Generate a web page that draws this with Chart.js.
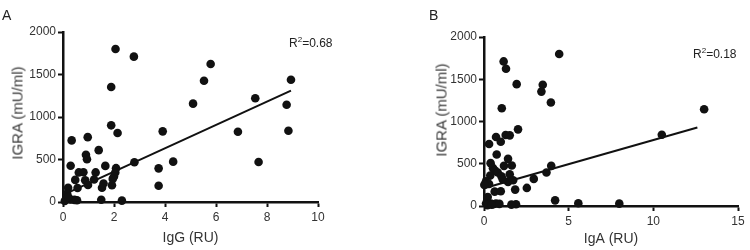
<!DOCTYPE html>
<html>
<head>
<meta charset="utf-8">
<script src="https://cdn.jsdelivr.net/npm/chart.js@4"></script>
<style>
  html, body { margin: 0; padding: 0; background: #fff; }
  #wrap { position: relative; width: 750px; height: 250px; overflow: hidden; font-family: "Liberation Sans", Arial, sans-serif; color: #222; }
  canvas { position: absolute; top: 0; }
  .lbl { position: absolute; white-space: nowrap; line-height: 1; }
  .ytitle { position: absolute; white-space: nowrap; font-size: 15px; line-height: 1; color: #3a3a3a; font-weight: normal; transform: translate(-50%, -50%) rotate(-90deg); }
  sup { font-size: 8px; vertical-align: 5px; line-height: 0; }
</style>
</head>
<body>
<div id="wrap">
  <canvas id="cA" width="375" height="250" style="left:0px"></canvas>
  <canvas id="cB" width="375" height="250" style="left:375px"></canvas>
  <div class="lbl" style="left:2px; top:8px; font-size:14px;">A</div>
  <div class="lbl" style="left:429px; top:8px; font-size:14px;">B</div>
  <div class="ytitle" style="left:17px; top:113px;">IGRA (mU/ml)</div>
  <div class="ytitle" style="left:441px; top:110px;">IGRA (mU/ml)</div>
  <div class="lbl" style="left:289px; top:37px; font-size:12px;">R<sup>2</sup>=0.68</div>
  <div class="lbl" style="left:693px; top:48px; font-size:12px;">R<sup>2</sup>=0.18</div>
</div>
<script>
// ---- Panel A: IgG vs IGRA ----
const igG = [2.06,2.78,5.79,5.53,8.94,5.10,7.54,8.77,1.89,1.89,2.14,3.91,6.86,8.84,7.67,4.32,2.80,3.75,3.75,0.34,0.97,1.40,0.90,0.94,0.30,1.66,2.08,2.05,0.62,0.80,1.28,0.48,0.87,1.22,2.00,1.95,1.59,1.53,1.92,0.98,0.57,0.20,0.16,0.12,0.30,0.45,0.55,0.07,1.50,2.31,0.20];
const igraA = [1800,1710,1624,1427,1439,1157,1220,1145,1353,902,812,831,827,839,471,475,467,396,192,725,763,610,556,503,427,425,398,348,348,350,348,260,255,265,300,272,218,168,198,200,165,168,100,40,30,25,20,12,27,16,60];
const fitAx = [0.05, 8.94];
const fitAy = [90, 1310];
const ticksAx = [0, 2, 4, 6, 8, 10];

// ---- Panel B: IgA vs IGRA ----
const igA = [4.44,1.16,1.30,1.93,3.47,3.39,3.95,1.05,13.0,10.5,2.01,0.71,1.28,1.52,0.99,0.30,0.75,0.39,1.42,1.18,1.64,0.53,0.65,0.81,0.37,1.03,1.52,3.97,3.69,2.94,2.53,1.84,1.42,1.72,0.12,0.30,0.63,0.99,4.20,5.57,7.99,1.89,1.62,0.22,0.12,0.30,0.41,0.55,0.71,0.91,0.20,0.45,1.11,0.02];
const igraB = [1798,1711,1624,1442,1434,1354,1224,1156,1145,844,907,816,840,836,760,733,610,507,558,475,479,448,420,396,360,352,376,475,396,321,214,194,285,305,293,261,170,174,67,32,28,20,16,107,30,25,30,20,30,25,10,15,314,250];
const fitBx = [0.0, 12.6];
const fitBy = [210, 930];
const ticksBx = [0, 5, 10, 15];
const ticksY = [0, 500, 1000, 1500, 2000];

const INK = '#111';
const TXT = '#333';
const FONT = "'Liberation Sans', Arial, sans-serif";

function pts(xs, ys) { return xs.map((x, i) => ({x: x, y: ys[i]})); }

function makeChart(id, xs, ys, fx, fy, xTicks, xTitle, geom) {
  const xMax = xTicks[xTicks.length - 1];
  return new Chart(document.getElementById(id), {
    type: 'scatter',
    data: {
      datasets: [
        { data: pts(xs, ys), pointRadius: 4.3, pointHoverRadius: 4.3, pointBackgroundColor: INK, pointBorderWidth: 0, backgroundColor: INK, clip: false, order: 1 },
        { type: 'line', data: pts(fx, fy), borderColor: INK, borderWidth: 2, pointRadius: 0, fill: false, clip: false, order: 2 }
      ]
    },
    options: {
      responsive: false,
      animation: false,
      events: [],
      layout: { padding: geom.pad },
      plugins: { legend: { display: false }, tooltip: { enabled: false } },
      scales: {
        x: {
          type: 'linear', min: 0, max: xMax,
          afterBuildTicks: s => { s.ticks = xTicks.map(v => ({value: v})); },
          ticks: { font: { family: FONT, size: 12 }, color: TXT, padding: 3, maxRotation: 0, callback: v => String(v) },
          grid: { display: true, drawOnChartArea: false, drawTicks: true, tickLength: 5, tickWidth: 2, tickColor: INK },
          border: { display: true, width: 2.5, color: INK },
          title: { display: true, text: xTitle, font: { family: FONT, size: 14 }, color: TXT, padding: { top: 0, bottom: geom.xtpad } },
          afterFit: s => { s.height = geom.xh; }
        },
        y: {
          type: 'linear', min: 0, max: 2000,
          afterBuildTicks: s => { s.ticks = ticksY.map(v => ({value: v})); },
          ticks: { font: { family: FONT, size: 12 }, color: TXT, padding: 2, callback: v => String(v) },
          grid: { display: true, drawOnChartArea: false, drawTicks: true, tickLength: 5, tickWidth: 2, tickColor: INK },
          border: { display: true, width: 2.5, color: INK },
          afterFit: s => { s.width = geom.yw; }
        }
      }
    }
  });
}

makeChart('cA', igG, igraA, fitAx, fitAy, ticksAx, 'IgG (RU)', { pad: {left: 0, top: 32, right: 57, bottom: 0}, xh: 48, yw: 63, xtpad: 3.6 });
makeChart('cB', igA, igraB, fitBx, fitBy, ticksBx, 'IgA (RU)', { pad: {left: 0, top: 37, right: 12, bottom: 0}, xh: 44, yw: 109, xtpad: 2.6 });
</script>
</body>
</html>
